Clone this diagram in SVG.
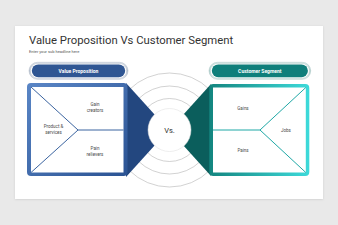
<svg xmlns="http://www.w3.org/2000/svg" width="338" height="225" viewBox="0 0 338 225">
<defs>
<linearGradient id="gBlue" x1="0" y1="0" x2="1" y2="1"><stop offset="0" stop-color="#5a86c6"/><stop offset="1" stop-color="#2b5393"/></linearGradient>
<linearGradient id="gTeal" x1="0" y1="0" x2="1" y2="0"><stop offset="0" stop-color="#13857f"/><stop offset="1" stop-color="#3ddada"/></linearGradient>
<linearGradient id="gRing" x1="0" y1="0" x2="0" y2="1"><stop offset="0" stop-color="#e9edf2"/><stop offset="0.5" stop-color="#b9c2ce"/><stop offset="1" stop-color="#e9edf2"/></linearGradient>
<linearGradient id="gRingT" x1="0" y1="0" x2="0" y2="1"><stop offset="0" stop-color="#e6f2f1"/><stop offset="0.5" stop-color="#b2cfcd"/><stop offset="1" stop-color="#e6f2f1"/></linearGradient>
<filter id="sh" x="-5%" y="-5%" width="110%" height="110%"><feDropShadow dx="0" dy="0.5" stdDeviation="0.8" flood-color="#000" flood-opacity="0.12"/></filter>
</defs>
<style>
.lbl{font-family:Roboto,"Liberation Sans",sans-serif;font-size:4.5px;fill:#4a4a4a;text-anchor:middle}
.pill{font-family:Roboto,"Liberation Sans",sans-serif;font-size:5px;font-weight:bold;fill:#ffffff;text-anchor:middle}
.arc{fill:none;stroke:#b3b3b3;stroke-width:0.6}
.lb{stroke:#3b64a0;stroke-width:1;fill:none}
.lt{stroke:#1fa8a6;stroke-width:1;fill:none}
</style>
<rect x="0" y="0" width="338" height="225" fill="#e9e9e9"/>
<rect x="15" y="26" width="308" height="173" fill="#ffffff" filter="url(#sh)"/>
<text x="29" y="43.5" font-family="Roboto,'Liberation Sans',sans-serif" font-size="11.3" fill="#333333">Value Proposition Vs Customer Segment</text>
<text x="29" y="53" font-family="Roboto,'Liberation Sans',sans-serif" font-size="4" fill="#555555">Enter your sub headline here</text>

<g id="rings">
<circle class="arc" cx="169.5" cy="130" r="57"/>
<circle class="arc" cx="169.5" cy="130" r="44"/>
<circle class="arc" cx="169.5" cy="130" r="31.5"/>
</g>

<g id="pill-value">
<rect x="29" y="62.3" width="99" height="17" rx="8.5" fill="url(#gRing)" stroke="#9aa6b8" stroke-width="0.4"/>
<rect x="30.3" y="63.4" width="96.4" height="14.8" rx="7.4" fill="#ffffff" stroke="#aab4c3" stroke-width="0.4"/>
<rect x="31.8" y="64.4" width="93.4" height="12.8" rx="6.4" fill="#2f5693"/>
<text class="pill" x="78.5" y="72.6">Value Proposition</text>
</g>

<g id="pill-customer">
<rect x="209" y="62.3" width="101.7" height="17" rx="8.5" fill="url(#gRingT)" stroke="#8fb5b2" stroke-width="0.4"/>
<rect x="210.3" y="63.4" width="99.1" height="14.8" rx="7.4" fill="#ffffff" stroke="#a3c4c1" stroke-width="0.4"/>
<rect x="211.8" y="64.4" width="96.1" height="12.8" rx="6.4" fill="#0f7f7b"/>
<text class="pill" x="259.8" y="72.6">Customer Segment</text>
</g>

<g id="value-box">
<polygon points="126,83 155,115 155,145 126,177" fill="#23477f"/>
<rect x="27" y="83" width="100.5" height="93" rx="4" fill="url(#gBlue)"/>
<rect x="31" y="87" width="92.5" height="85.5" fill="#ffffff"/>
<polyline class="lb" points="31,87 78,130 31,172.5"/>
<line class="lb" x1="78" y1="130" x2="123.5" y2="130"/>
<text class="lbl" x="95" y="106">Gain</text>
<text class="lbl" x="95" y="112">creators</text>
<text class="lbl" x="53.5" y="127.5">Product &amp;</text>
<text class="lbl" x="53.5" y="133.5">services</text>
<text class="lbl" x="95" y="150">Pain</text>
<text class="lbl" x="95" y="156">relievers</text>
</g>

<g id="customer-box">
<polygon points="211,84 183,115 183,145 211,176" fill="#0b5e5c"/>
<rect x="209.3" y="84" width="100" height="92" rx="4" fill="url(#gTeal)"/>
<rect x="213" y="87.5" width="92.8" height="85" fill="#ffffff"/>
<line class="lt" x1="213" y1="130" x2="260" y2="130"/>
<polyline class="lt" points="305.8,87.5 260,130 305.8,172.5"/>
<text class="lbl" x="243" y="109.5">Gains</text>
<text class="lbl" x="286" y="131.5">Jobs</text>
<text class="lbl" x="243" y="152">Pains</text>
</g>

<g id="vs">
<circle cx="169.5" cy="130" r="21.5" fill="#ffffff" stroke="#dddddd" stroke-width="0.5"/>
<text x="169.5" y="132.6" text-anchor="middle" font-family="Roboto,'Liberation Sans',sans-serif" font-size="7.5" fill="#333333">Vs.</text>
</g>
</svg>
